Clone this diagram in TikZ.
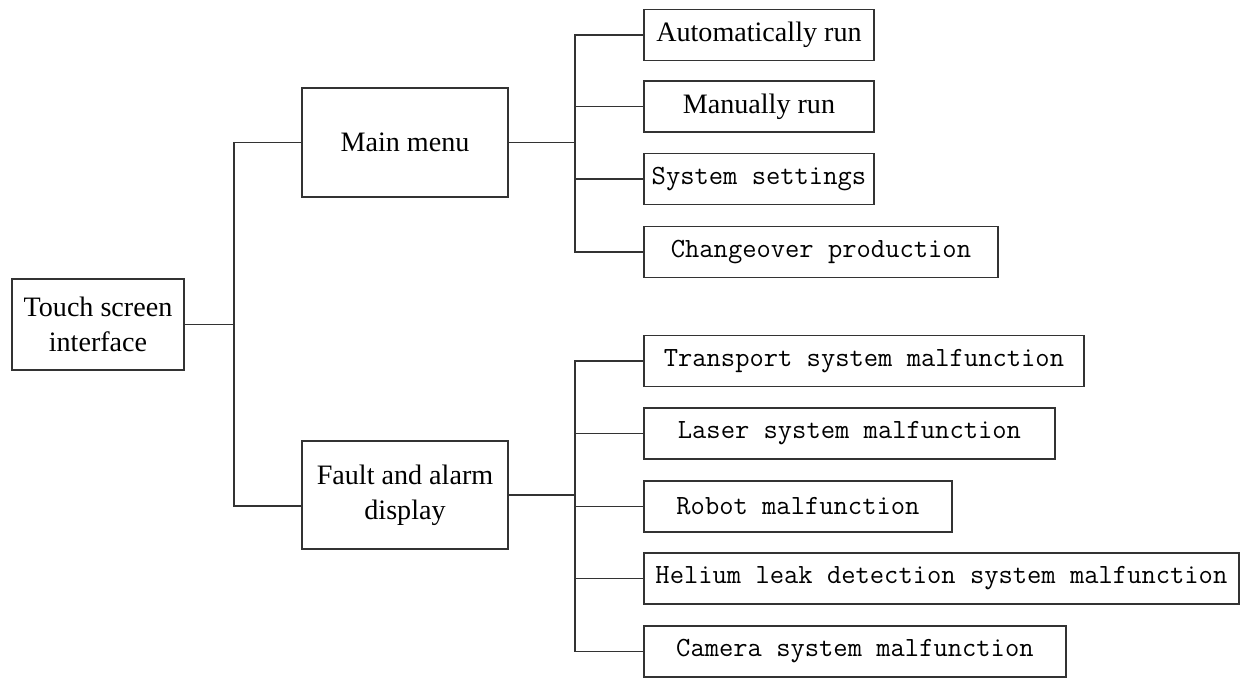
\documentclass[tikz,border=0pt]{standalone}
\usepackage{fontspec}
\setmainfont{Liberation Serif}
\setmonofont{Latin Modern Mono}
\usetikzlibrary{positioning}

\tikzset{
    box/.style={rectangle, draw=black!80, line width=1.1pt, fill=white, align=center,
        font=\fontsize{16}{20}\selectfont, inner sep=2pt},
    leafbox/.style={rectangle, draw=black!80, line width=1.1pt, fill=white, anchor=west,
        minimum height=1.02cm, inner sep=2pt, font=\ttfamily\fontsize{15.8}{19}\selectfont},
    link/.style={draw=black!80, line width=1.1pt}
}

\begin{document}
\begin{tikzpicture}[x=0.02cm, y=-0.02cm]
    \useasboundingbox (0,0) rectangle (1241,677);

    % Root and first level
    \node[box, minimum width=3.44cm, minimum height=1.82cm] (root) at (98,324.5) {Touch screen\\interface};
    \node[box, minimum width=4.12cm, minimum height=2.18cm] (mainmenu) at (405,142.5) {Main menu};
    \node[box, minimum width=4.12cm, minimum height=2.16cm] (fault) at (405,495) {Fault and alarm\\display};

    % Main menu items
    \node[leafbox, font=\fontsize{16}{20}\selectfont, minimum width=4.6cm] (auto) at (643,35) {Automatically run};
    \node[leafbox, font=\fontsize{16}{20}\selectfont, minimum width=4.6cm] (manual) at (643,106.5) {Manually run};
    \node[leafbox, minimum width=4.6cm] (settings) at (643,179) {System settings};
    \node[leafbox, minimum width=7.08cm] (change) at (643,252) {Changeover production};

    % Fault items
    \node[leafbox, minimum width=8.8cm] (transport) at (643,361) {Transport system malfunction};
    \node[leafbox, minimum width=8.22cm] (laser) at (643,433.5) {Laser system malfunction};
    \node[leafbox, minimum width=6.16cm] (robot) at (643,506.5) {Robot malfunction};
    \node[leafbox, minimum width=11.9cm] (helium) at (643,578.5) {Helium leak detection system malfunction};
    \node[leafbox, minimum width=8.44cm] (camera) at (643,651.5) {Camera system malfunction};

    % Connections
    \coordinate (trunk) at (234,324.5);
    \coordinate (mbus) at (575,142.5);
    \coordinate (fbus) at (575,495);

    \draw[link] (root.east) -- (trunk);
    \draw[link] (mainmenu.west) -| (trunk) |- ([yshift=-0.22cm]fault.west);

    \draw[link] (mainmenu.east) -- (mbus);
    \foreach \item in {auto, manual, settings, change}
        \draw[link] (mbus) |- (\item.west);

    \draw[link] (fault.east) -- (fbus);
    \foreach \item in {transport, laser, robot, helium, camera}
        \draw[link] (fbus) |- (\item.west);
\end{tikzpicture}
\end{document}
